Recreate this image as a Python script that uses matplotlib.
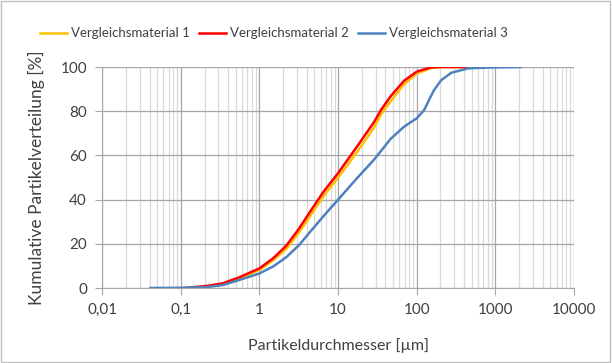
import matplotlib.pyplot as plt
from matplotlib.ticker import FixedLocator, FixedFormatter, LogLocator, NullFormatter
from matplotlib.patches import Rectangle

plt.rcParams['font.family'] = ['Lato', 'DejaVu Sans']

# Partikeldurchmesser [µm] und kumulative Verteilung [%]
d1 = [0.115, 0.21, 0.34, 0.55, 1, 1.5, 2.2, 3.2, 4.4, 6.5, 10, 17.4, 28.5, 35, 46.6, 69, 100, 150, 200, 490]
v1 = [0, 0.7, 1.8, 4.3, 8.2, 12.6, 17.8, 25.3, 32.5, 41.5, 50, 61.5, 72.5, 78.5, 84.5, 92.2, 97, 99.5, 100, 100]

d2 = [0.115, 0.21, 0.34, 0.55, 1, 1.5, 2.2, 3.2, 4.4, 6.5, 10, 17.4, 28.5, 35, 46.6, 69, 100, 150, 200, 490]
v2 = [0, 0.9, 2.1, 4.8, 8.9, 13.5, 19.2, 27, 34.5, 43.5, 52, 64, 75, 80.5, 86.8, 93.8, 97.9, 99.8, 100, 100]

d3 = [0.041, 0.1, 0.21, 0.34, 0.55, 1, 1.5, 2.2, 3.2, 4.5, 6.5, 10, 17.4, 28.5, 46.6, 69, 100, 124, 145, 166, 204, 275, 450, 880, 2100]
v3 = [0, 0.1, 0.4, 1.3, 3.6, 6.6, 9.8, 14, 19.5, 25.8, 32.5, 40, 49.7, 58, 67.5, 73, 76.8, 80.5, 85.5, 89.6, 94, 97.4, 99.4, 99.8, 100]

names = ['Vergleichsmaterial 1', 'Vergleichsmaterial 2', 'Vergleichsmaterial 3']
colors = ['#FFC000', '#FF0000', '#4F81BD']

xticks = [0.01, 0.1, 1, 10, 100, 1000, 10000]
xticklabels = ['0,01', '0,1', '1', '10', '100', '1000', '10000']
yticks = [0, 20, 40, 60, 80, 100]

fig = plt.figure(figsize=(6.12, 3.63), dpi=100)
fig.patches.append(Rectangle((0.002, 0.003), 0.995, 0.994, transform=fig.transFigure,
                             fill=False, edgecolor='#BFBFBF', linewidth=1))
ax = fig.add_axes([0.167, 0.2066, 0.771, 0.6088])

for d, v, n, c in zip([d1, d2, d3], [v1, v2, v3], names, colors):
    ax.plot(d, v, color=c, linewidth=1.8, label=n, solid_joinstyle='round')

ax.set_xscale('log')
ax.set_xlim(0.01, 10000)
ax.set_ylim(0, 100)
ax.xaxis.set_major_locator(FixedLocator(xticks))
ax.xaxis.set_major_formatter(FixedFormatter(xticklabels))
ax.xaxis.set_minor_locator(LogLocator(base=10, subs=range(2, 10), numticks=20))
ax.xaxis.set_minor_formatter(NullFormatter())
ax.set_yticks(yticks)

ax.grid(which='major', color='#A6A6A6', linewidth=0.9)
ax.grid(which='minor', axis='x', color='#D9D9D9', linewidth=0.9)
ax.set_axisbelow(True)
for s in ['top', 'right']:
    ax.spines[s].set_visible(False)
ax.spines['bottom'].set_color('#A6A6A6')
ax.spines['left'].set_color('#A6A6A6')
ax.tick_params(axis='x', which='major', length=5, color='#A6A6A6', labelsize=11, labelcolor='#404040', pad=6)
ax.tick_params(axis='x', which='minor', length=0)
ax.tick_params(axis='y', length=5, color='#A6A6A6', labelsize=11, labelcolor='#404040', pad=6)

ax.set_xlabel('Partikeldurchmesser [µm]', fontsize=11.5, color='#404040', labelpad=15)
ax.set_ylabel('Kumulative Partikelverteilung [%]', fontsize=12.5, color='#404040', labelpad=11)

leg = fig.legend(loc='center', bbox_to_anchor=(0.447, 0.908), ncol=3, frameon=False,
                 fontsize=9.5, handlelength=2.1, handletextpad=0.25, columnspacing=0.7)
for t in leg.get_texts():
    t.set_color('#404040')

fig.savefig('out.png', dpi=100)
